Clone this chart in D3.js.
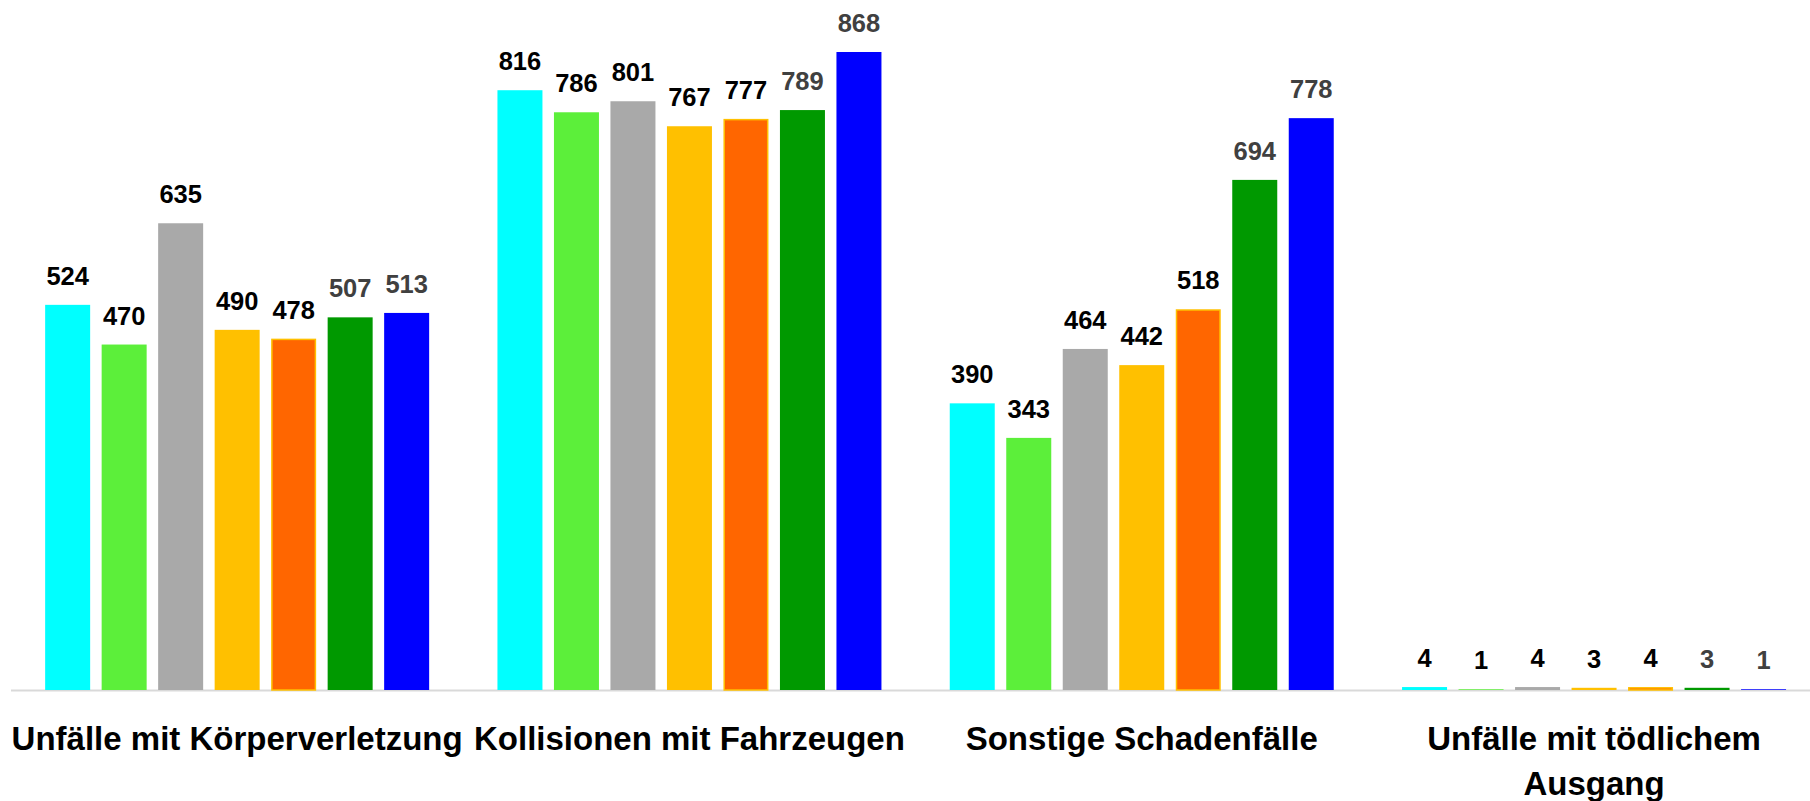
<!DOCTYPE html>
<html>
<head>
<meta charset="utf-8">
<script src="https://cdn.jsdelivr.net/npm/d3@7"></script>
<style>
  html, body { margin: 0; padding: 0; background: #fff; }
  svg { display: block; }
</style>
</head>
<body>
<svg id="chart" width="1810" height="801"></svg>
<script>
const categories = ["Unfälle mit Körperverletzung", "Kollisionen mit Fahrzeugen", "Sonstige Schadenfälle", "Unfälle mit tödlichem Ausgang"];
const seriesNames = ["Serie 1", "Serie 2", "Serie 3", "Serie 4", "Serie 5", "Serie 6", "Serie 7"];
const serie1 = [524, 816, 390, 4];
const serie2 = [470, 786, 343, 1];
const serie3 = [635, 801, 464, 4];
const serie4 = [490, 767, 442, 3];
const serie5 = [478, 777, 518, 4];
const serie6 = [507, 789, 694, 3];
const serie7 = [513, 868, 778, 1];
const seriesValues = [serie1, serie2, serie3, serie4, serie5, serie6, serie7];

const fillColors = ["#00FFFF", "#5CEF3A", "#A9A9A9", "#FFC000", "#FF6600", "#009900", "#0000FF"];
const strokeColors = ["none", "none", "none", "none", "#FFC000", "none", "none"];
const labelColors = ["#000000", "#000000", "#000000", "#000000", "#000000", "#404040", "#404040"];

const svg = d3.select("#chart");
const baseline = 690;

const x0 = d3.scaleBand().domain(categories).range([11, 11 + 4 * 452.3]).paddingInner(0).paddingOuter(0);
const bw = x0.bandwidth();
const barsSpan = 384;
const x1 = d3.scaleBand().domain(seriesNames)
  .range([(bw - barsSpan) / 2, (bw + barsSpan) / 2])
  .paddingInner(11.5 / 56.5).paddingOuter(0);
const y = d3.scaleLinear().domain([0, 868]).range([baseline, 52]);

// axis line
svg.append("line")
  .attr("x1", 11).attr("x2", 1810)
  .attr("y1", baseline + 0.5).attr("y2", baseline + 0.5)
  .attr("stroke", "#D9D9D9").attr("stroke-width", 2);

const data = [];
categories.forEach((c, ci) => {
  seriesNames.forEach((s, si) => {
    data.push({ cat: c, ser: s, si: si, value: seriesValues[si][ci] });
  });
});

const groups = svg.append("g");
groups.selectAll("rect.bar").data(data).enter().append("rect")
  .attr("class", "bar")
  .attr("x", d => x0(d.cat) + x1(d.ser) + (strokeColors[d.si] !== "none" ? 0.75 : 0))
  .attr("y", d => y(d.value) + (strokeColors[d.si] !== "none" ? 0.75 : 0))
  .attr("width", d => x1.bandwidth() - (strokeColors[d.si] !== "none" ? 1.5 : 0))
  .attr("height", d => Math.max(0, baseline - y(d.value) - (strokeColors[d.si] !== "none" ? 0.75 : 0)))
  .attr("fill", d => fillColors[d.si])
  .attr("stroke", d => strokeColors[d.si])
  .attr("stroke-width", 1.5);

groups.selectAll("text.val").data(data).enter().append("text")
  .attr("class", "val")
  .attr("x", d => x0(d.cat) + x1(d.ser) + x1.bandwidth() / 2)
  .attr("y", d => y(d.value) - 20)
  .attr("text-anchor", "middle")
  .attr("font-family", "'Liberation Sans', Arial, sans-serif")
  .attr("font-weight", "bold")
  .attr("font-size", 25.5)
  .attr("fill", d => labelColors[d.si])
  .text(d => d.value);

// category labels with wrapping
const catLabels = svg.append("g").selectAll("text.cat").data(categories).enter().append("text")
  .attr("class", "cat")
  .attr("x", d => x0(d) + bw / 2)
  .attr("y", 750)
  .attr("text-anchor", "middle")
  .attr("font-family", "'Liberation Sans', Arial, sans-serif")
  .attr("font-weight", "bold")
  .attr("font-size", 33)
  .attr("fill", "#000000");

catLabels.each(function(d) {
  const t = d3.select(this);
  const words = d.split(" ");
  const cx = x0(d) + bw / 2;
  let line = [];
  let lines = [];
  const probe = t.append("tspan").attr("x", cx);
  words.forEach(w => {
    const test = line.concat([w]).join(" ");
    probe.text(test);
    if (probe.node().getComputedTextLength() > bw + 30 && line.length) {
      lines.push(line.join(" "));
      line = [w];
    } else {
      line.push(w);
    }
  });
  lines.push(line.join(" "));
  probe.remove();
  lines.forEach((l, i) => {
    t.append("tspan").attr("x", cx).attr("dy", i === 0 ? 0 : 45).text(l);
  });
});
</script>
</body>
</html>
